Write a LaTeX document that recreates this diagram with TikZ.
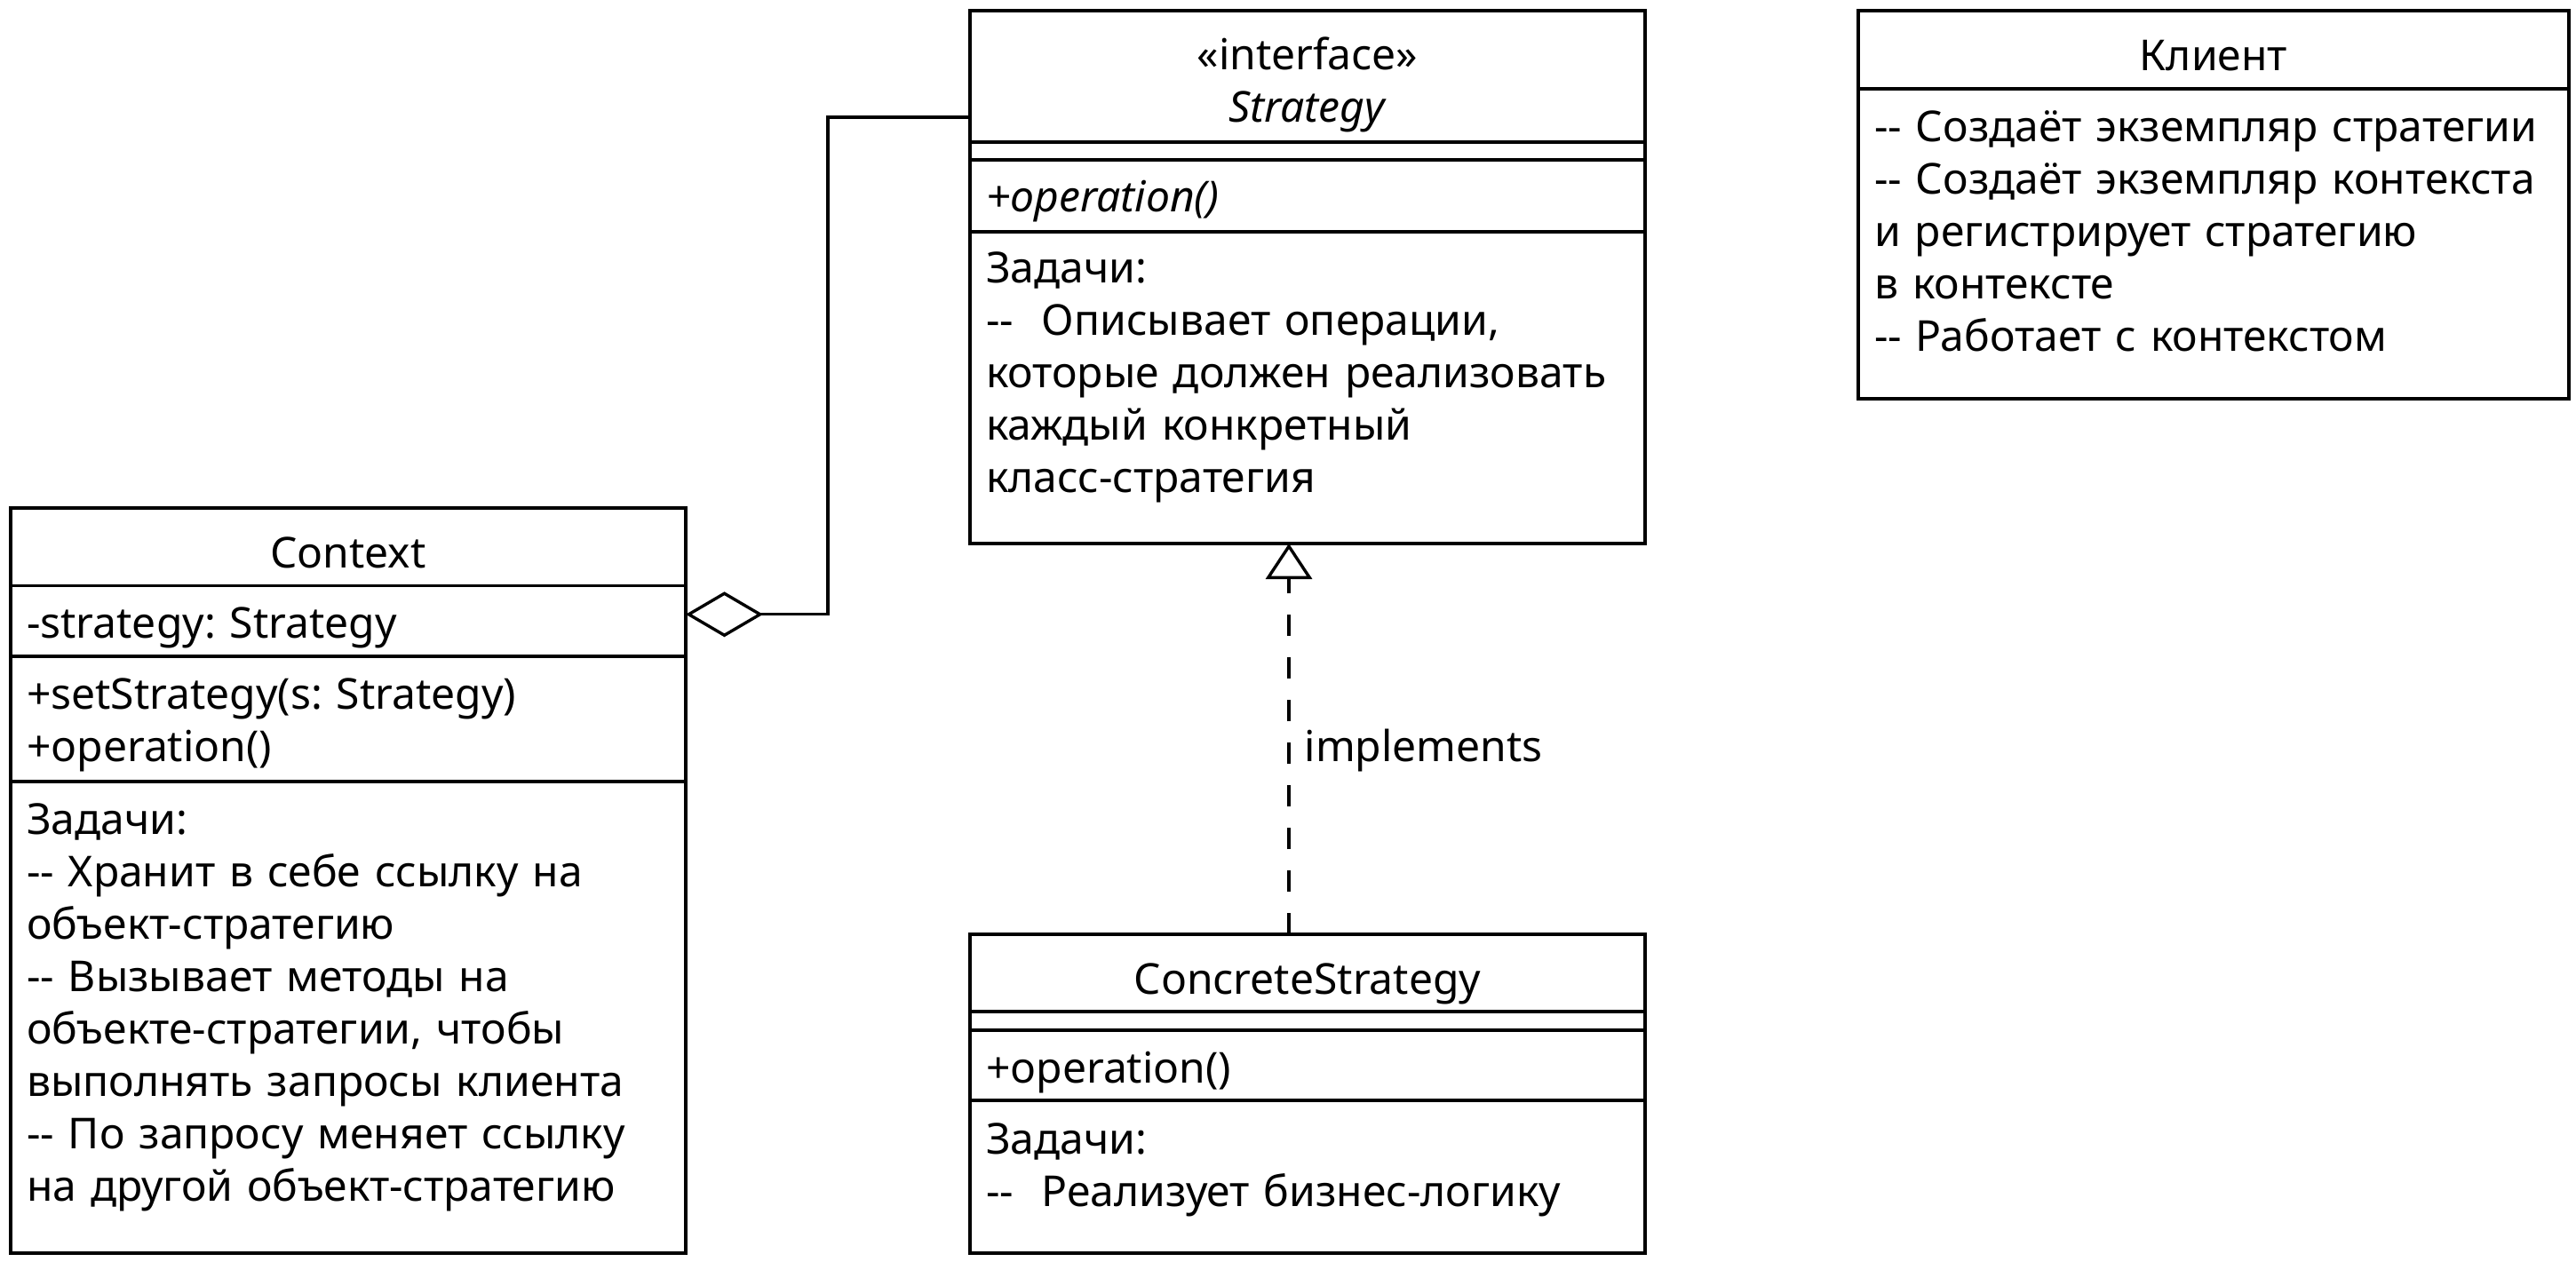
\documentclass[tikz,border=0pt]{standalone}
\usepackage{fontspec}
\setmainfont{Noto Sans}
\usetikzlibrary{positioning, calc, arrows.meta}
\frenchspacing

\newcommand{\dsh}{\mbox{-}\mbox{-}}

\begin{document}
\begin{tikzpicture}[line width=1.7pt, node distance=0pt, font=\fontsize{24pt}{29.5pt}\selectfont]
    \tikzstyle{part}=[draw=black, rectangle, outer sep=0pt, inner xsep=9pt, inner ysep=0pt, text width=362pt, align=left]
    \tikzstyle{head}=[part, align=center, text depth=10pt]
    \tikzstyle{aggr}=[{Diamond[open, length=43.5pt, width=25.5pt]}-]
    \tikzstyle{realize}=[-{Triangle[open, length=20pt, width=26pt]}, dash pattern=on 12pt off 12pt]

    \useasboundingbox (0pt,0pt) rectangle (1450pt,-710pt);

    % Context
    \node[head, anchor=north west, text height=33.75pt] (ctxName) at (6pt,-286pt) {Context};
    \node[part, below=of ctxName, text height=29.5pt, text depth=10.25pt] (ctxAttr) {-strategy: Strategy};
    \node[part, below=of ctxAttr, text height=29.5pt, text depth=41pt] (ctxOps) {+setStrategy(s: Strategy)\\+operation()};
    \node[part, below=of ctxOps, text height=29.5pt, text depth=236pt] (ctxNote) {Задачи:\\
        \dsh\ Хранит в себе ссылку на\\
        объект-стратегию\\
        \dsh\ Вызывает методы на\\
        объекте-стратегии, чтобы\\
        выполнять запросы клиента\\
        \dsh\ По запросу меняет ссылку\\
        на другой объект-стратегию};

    % Strategy
    \node[head, anchor=north west, text height=33pt, text depth=41pt] (strName) at (546pt,-6pt) {«interface»\\\textit{Strategy}};
    \node[part, below=of strName, text height=10pt, text depth=0pt] (strAttr) {};
    \node[part, below=of strAttr, text height=29pt, text depth=11.5pt] (strOps) {\textit{+operation()}};
    \node[part, below=of strOps, text height=28.5pt, text depth=147pt] (strNote) {Задачи:\\
        \dsh\ \ Описывает операции,\\
        которые должен реализовать\\
        каждый конкретный\\
        класс-стратегия};

    % ConcreteStrategy
    \node[head, below=220pt of strNote, text height=33.5pt] (csName) {ConcreteStrategy};
    \node[part, below=of csName, text height=10.5pt, text depth=0pt] (csAttr) {};
    \node[part, below=of csAttr, text height=29.5pt, text depth=10pt] (csOps) {+operation()};
    \node[part, below=of csOps, text height=30pt, text depth=56pt] (csNote) {Задачи:\\
        \dsh\ \ Реализует бизнес-логику};

    % Client
    \node[head, anchor=north west, text width=382pt, text height=33.5pt, text depth=10.5pt] (cliName) at (1046pt,-6pt) {Клиент};
    \node[part, below=of cliName, text width=382pt, text height=29.5pt, text depth=145pt] (cliNote) {\dsh\ Создаёт экземпляр стратегии\\
        \dsh\ Создаёт экземпляр контекста\\
        и регистрирует стратегию\\
        в контексте\\
        \dsh\ Работает с контекстом};

    % connectors
    \coordinate (knee) at ($(ctxAttr.east)!0.5!(strName.west)$);
    \draw[aggr] ([yshift=3.75pt]ctxAttr.east) -| (knee) |- ([yshift=-23pt]strName.west);
    \draw[realize] ([xshift=-10.5pt]csName.north) -- node[pos=0.47, right=8pt, inner sep=0pt] (impl) {implements} ([xshift=-10.5pt]strNote.south);

\end{tikzpicture}
\end{document}
